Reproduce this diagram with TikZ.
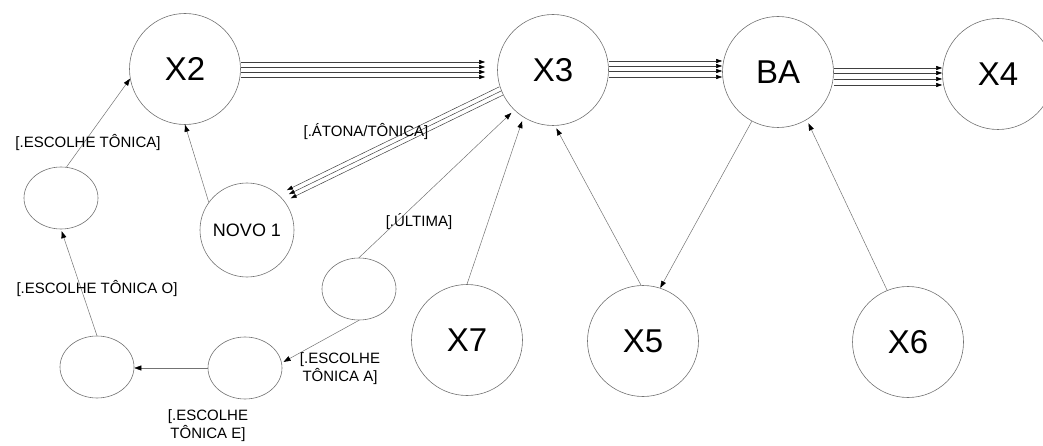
\documentclass[tikz,border=0pt]{standalone}
\usepackage{fontspec}
\setmainfont{Liberation Sans}
\usetikzlibrary{arrows.meta,shapes.geometric}
\begin{document}
\begin{tikzpicture}[x=1pt,y=-1pt,
  st/.style={circle,draw=black!55,line width=0.6pt,inner sep=0pt,minimum size=111pt,font=\fontsize{33}{36}\selectfont},
  sm/.style={ellipse,draw=black!55,line width=0.6pt,inner sep=0pt,minimum width=74pt,minimum height=62pt},
  ar/.style={draw=black!55,line width=0.5pt,-{Triangle[length=7pt,width=5pt,color=black]}},
  bnd/.style={draw=black!75,line width=0.5pt,-{Triangle[length=6pt,width=4pt,color=black]}},
  lb/.style={font=\fontsize{15}{18}\selectfont,align=center,inner sep=1pt}]
\useasboundingbox (0,0) rectangle (1043,446);
% states
\node[st] (X2) at (185,69) {X2};
\node[st] (X3) at (553,70) {X3};
\node[st] (BA) at (778,72) {BA};
\node[st] (X4) at (998,74) {X4};
\node[st,minimum size=94pt,font=\fontsize{18}{20}\selectfont] (N1) at (247,230) {NOVO 1};
\node[sm] (TL) at (61,198) {};
\node[sm] (BL) at (97,367) {};
\node[sm] (E) at (245,368) {};
\node[sm] (A) at (359,289) {};
\node[st] (X7) at (467,340) {X7};
\node[st] (X5) at (643,341) {X5};
\node[st] (X6) at (908,342) {X6};
% bundles
\foreach \a/\b in {7/8,2/3,-3/-2,-8/-7}
  \draw[bnd,shorten >=12pt] ([yshift=\a pt]X2.east) -- ([yshift=\b pt]X3.west);
\foreach \a/\b in {9/11,4/6,-1/1,-7/-5}
  \draw[bnd] ([yshift=\a pt]X3.east) -- ([yshift=\b pt]BA.west);
\foreach \a/\b in {4/6,-1/1,-7/-5,-13/-11}
  \draw[bnd] ([yshift=\a pt]BA.east) -- ([yshift=\b pt]X4.west);
\foreach \s in {-1,0,1}
  \draw[bnd,shorten >=8pt] ([xshift=\s*1.9pt,yshift=-\s*4.1pt]X3.202) -- ([xshift=\s*1.9pt,yshift=-\s*4.1pt]N1.43);
% single arrows
\draw[ar] (N1.144) -- (X2.270);
\draw[ar] (TL.80) -- (X2.190);
\draw[ar,shorten >=2pt] (BL.north) -- (TL.south);
\draw[ar] (E.west) -- (E.west -| BL.east);
\draw[ar,shorten >=2pt] (A.south) -- (E.8);
\draw[ar,shorten >=4pt] (A.north) -- (X3.226);
\draw[ar,shorten >=4pt] (X7.north) -- (X3.238);
\draw[ar,shorten >=3pt] (X5.92) -- (X3.272);
\draw[ar] (BA.242) -- (X5.72);
\draw[ar,shorten >=4pt] (X6.112) -- (BA.301);
% labels
\node[lb] (l1) at (88,143) {[.ESCOLHE TÔNICA]};
\node[lb] (l2) at (97,289) {[.ESCOLHE TÔNICA O]};
\node[lb] (l3) at (208,426) {[.ESCOLHE\\TÔNICA E]};
\node[lb] (l4) at (340,369) {[.ESCOLHE\\TÔNICA A]};
\node[lb] (l5) at (419,222) {[.ÚLTIMA]};
\node[lb] (l6) at (366,132) {[.ÁTONA/TÔNICA]};
\end{tikzpicture}
\end{document}
